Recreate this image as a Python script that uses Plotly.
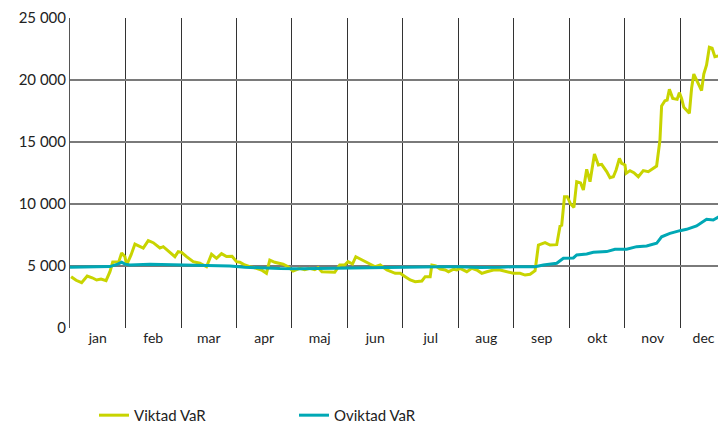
import plotly.graph_objects as go

# Month labels (x axis uses month units: 0 = start of Jan, 12 = end of Dec)
months = ["jan", "feb", "mar", "apr", "maj", "jun", "jul", "aug", "sep", "okt", "nov", "dec"]
X_MAX = 11.676  # visible part of the year (December is cut at the right edge)
month_centers = [min(i + 0.5, X_MAX - 0.26) for i in range(12)]
month_bounds = list(range(0, 12))

y_ticks = [0, 5000, 10000, 15000, 20000, 25000]
y_ticktext = ["0", "5 000", "10 000", "15 000", "20 000", "25 000"]

# Viktad VaR (time in fractional months, value)
viktad_t = [0.02, 0.11, 0.21, 0.31, 0.40, 0.48, 0.56, 0.65, 0.72, 0.77, 0.88, 0.93, 0.99, 1.02,
            1.10, 1.17, 1.32, 1.41, 1.50, 1.62, 1.68, 1.80, 1.89, 1.95, 2.01, 2.10, 2.22, 2.34,
            2.46, 2.55, 2.64, 2.73, 2.82, 2.92, 3.00, 3.06, 3.15, 3.24, 3.33, 3.45, 3.54, 3.60,
            3.69, 3.84, 3.93, 4.02, 4.14, 4.23, 4.32, 4.41, 4.47, 4.54, 4.66, 4.77, 4.86, 4.95,
            5.01, 5.09, 5.15, 5.26, 5.37, 5.50, 5.59, 5.71, 5.86, 5.95, 6.04, 6.13, 6.22, 6.34,
            6.40, 6.49, 6.52, 6.59, 6.67, 6.76, 6.82, 6.91, 6.97, 7.03, 7.15, 7.24, 7.33, 7.42,
            7.51, 7.63, 7.75, 7.87, 7.99, 8.11, 8.20, 8.29, 8.38, 8.44, 8.56, 8.65, 8.77, 8.83,
            8.86, 8.91, 8.96, 9.02, 9.08, 9.13, 9.20, 9.25, 9.31, 9.37, 9.45, 9.52, 9.58, 9.67,
            9.73, 9.79, 9.84, 9.90, 9.94, 10.00, 10.02, 10.09, 10.16, 10.24, 10.33, 10.42, 10.51,
            10.57, 10.63, 10.66, 10.72, 10.76, 10.80, 10.86, 10.94, 10.98, 11.02, 11.06, 11.16,
            11.20, 11.24, 11.30, 11.38, 11.42, 11.47, 11.52, 11.57, 11.62, 11.68, 11.76, 11.82]
viktad_v = [4140, 3850, 3650, 4190, 4050, 3870, 3950, 3815, 4540, 5320, 5350, 6050, 5750, 5080,
            5890, 6770, 6450, 7040, 6880, 6450, 6560, 6070, 5750, 6150, 6100, 5750, 5350, 5220,
            4940, 5950, 5620, 6000, 5760, 5780, 5350, 5300, 5080, 4940, 4860, 4680, 4410, 5480,
            5300, 5140, 4940, 4600, 4810, 4700, 4810, 4700, 4860, 4540, 4490, 4490, 5080, 5080,
            5350, 5160, 5750, 5480, 5220, 4940, 5080, 4680, 4410, 4410, 4140, 3870, 3740, 3790,
            4140, 4140, 5080, 5000, 4750, 4680, 4540, 4740, 4680, 4810, 4540, 4810, 4680, 4410,
            4540, 4680, 4680, 4540, 4410, 4410, 4270, 4330, 4620, 6690, 6880, 6690, 6720, 8230,
            8290, 10590, 10590, 10000, 9730, 11800, 11700, 11130, 12800, 11800, 14030, 13150, 13200, 12610,
            12120, 12200, 12740, 13680, 13280, 13150, 12470, 12690, 12530, 12200, 12690, 12600, 12880,
            13060, 15160, 17900, 18330, 18380, 19250, 18520, 18440, 18980, 18520, 17800, 17310,
            19330, 20480, 19870, 19140, 20480, 21210, 22640, 22560, 21880, 21940, 22150, 20940]

# Oviktad VaR
oviktad_t = [0.00, 0.36, 0.72, 0.86, 0.93, 0.99, 1.08, 1.44, 1.80, 2.16, 2.52, 2.88, 3.15, 3.42,
             3.78, 4.14, 4.50, 4.86, 5.23, 5.59, 5.95, 6.31, 6.67, 7.03, 7.39, 7.75, 7.99, 8.38,
             8.53, 8.77, 8.89, 9.07, 9.13, 9.31, 9.43, 9.67, 9.82, 10.03, 10.21, 10.39, 10.57,
             10.66, 10.81, 10.99, 11.11, 11.29, 11.47, 11.59, 11.71, 11.82]
oviktad_v = [4900, 4900, 4950, 5150, 5300, 5150, 5080, 5150, 5100, 5080, 5050, 5000, 4900, 4840,
             4800, 4780, 4810, 4830, 4880, 4900, 4900, 4920, 4940, 4940, 4880, 4900, 4940, 4940,
             5080, 5220, 5620, 5650, 5890, 5970, 6100, 6160, 6350, 6350, 6560, 6610, 6830,
             7360, 7630, 7850, 7960, 8230, 8770, 8710, 9030, 8980]

YELLOW = "#C8D400"
TEAL = "#00A8B5"
FONT = "Lato, Open Sans, sans-serif"

fig = go.Figure()
fig.add_trace(go.Scatter(x=viktad_t, y=viktad_v, mode="lines", name="Viktad VaR",
                         line=dict(color=YELLOW, width=3)))
fig.add_trace(go.Scatter(x=oviktad_t, y=oviktad_v, mode="lines", name="Oviktad VaR",
                         line=dict(color=TEAL, width=3)))

# The page body adds an 8px margin, so the figure is sized to fit inside the window
fig.update_layout(
    width=710, height=416,
    margin=dict(l=62, r=0, t=10, b=96, autoexpand=False),
    plot_bgcolor="white", paper_bgcolor="white",
    font=dict(family=FONT, size=15, color="#222222"),
    showlegend=True,
    legend=dict(orientation="h", x=0.037, xanchor="left", y=-0.282, yanchor="middle",
                entrywidth=155, font=dict(size=15, color="#222222")),
    xaxis=dict(range=[0, X_MAX], tickmode="array", tickvals=month_centers, ticktext=months,
               showgrid=False, zeroline=False, ticks="", showline=False, automargin=False,
               ticklabeloverflow="allow",
               tickfont=dict(family=FONT, size=14),
               minor=dict(tickmode="array", tickvals=month_bounds, showgrid=True,
                          gridcolor="#333333", gridwidth=1, ticks="")),
    yaxis=dict(range=[0, 25000], tickmode="array", tickvals=y_ticks, ticktext=y_ticktext,
               showgrid=True, gridcolor="#7a7a7a", gridwidth=1.5, zeroline=False,
               showline=True, linecolor="#555555", linewidth=1, ticks="", automargin=False,
               tickfont=dict(size=15)),
)

fig.write_html("out.html")
